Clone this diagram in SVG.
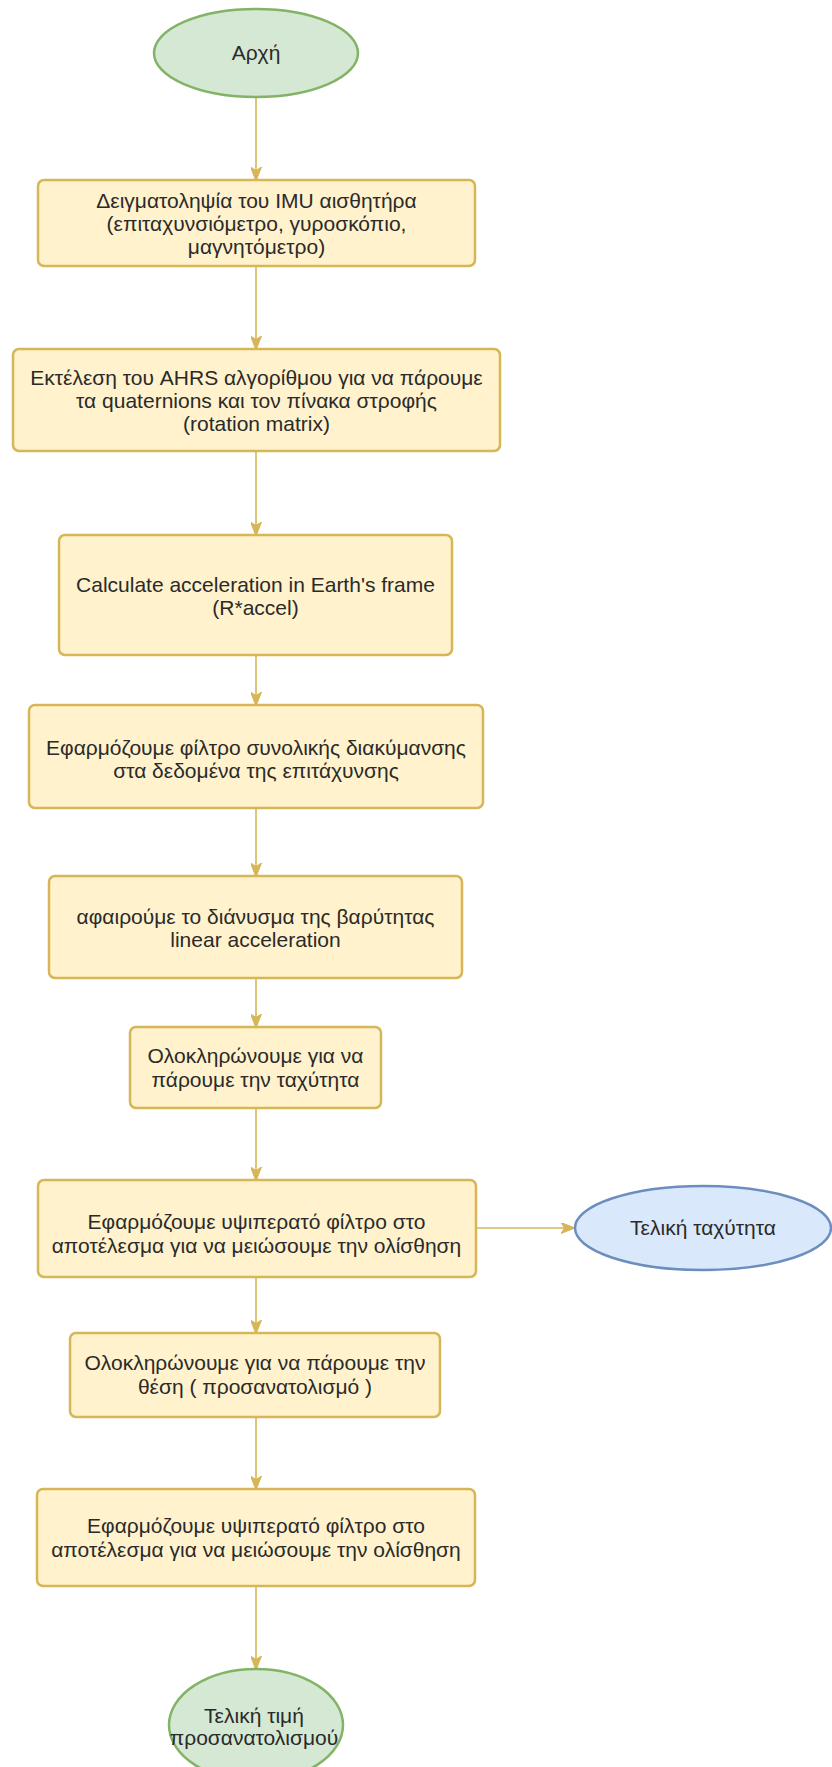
<svg xmlns="http://www.w3.org/2000/svg" width="832" height="1767" viewBox="0 0 832 1767">
<defs>
<marker id="arr" viewBox="0 0 14 11" refX="13" refY="5.5" markerWidth="14" markerHeight="11" orient="auto" markerUnits="userSpaceOnUse">
<path d="M0,0 L14,5.5 L0,11 L3.5,5.5 z" fill="#d6b656" stroke="#d6b656" stroke-width="1"/>
</marker>
<style>
.box{fill:#fff2cc;stroke:#d6b656;stroke-width:2.5}
.green{fill:#d5e8d4;stroke:#82b366;stroke-width:2.5}
.blue{fill:#dae8fc;stroke:#6c8ebf;stroke-width:2.5}
.t{font-family:"Liberation Sans",Arial,sans-serif;font-size:21px;fill:#2a2a2a;text-anchor:middle}
.c{stroke:#d6b656;stroke-width:1.6;fill:none;marker-end:url(#arr)}
</style>
</defs>
<rect width="832" height="1767" fill="#ffffff"/>
<g id="connectors">
<line class="c" x1="256" y1="97" x2="256" y2="180"/>
<line class="c" x1="256" y1="266" x2="256" y2="349"/>
<line class="c" x1="256" y1="451" x2="256" y2="535"/>
<line class="c" x1="256" y1="655" x2="256" y2="705"/>
<line class="c" x1="256" y1="808" x2="256" y2="876"/>
<line class="c" x1="256" y1="978" x2="256" y2="1027"/>
<line class="c" x1="256" y1="1108" x2="256" y2="1180"/>
<line class="c" x1="256" y1="1277" x2="256" y2="1333"/>
<line class="c" x1="256" y1="1417" x2="256" y2="1489"/>
<line class="c" x1="256" y1="1586" x2="256" y2="1669"/>
<line class="c" x1="476" y1="1228" x2="574" y2="1228"/>
</g>
<g id="start">
<ellipse class="green" cx="256" cy="53" rx="102" ry="44"/>
<text class="t" x="256" y="60">Αρχή</text>
</g>
<g id="step1">
<rect class="box" x="38" y="180" width="437" height="86" rx="6"/>
<text class="t" x="256.5" y="208">Δειγματοληψία του IMU αισθητήρα</text>
<text class="t" x="256.5" y="231">(επιταχυνσιόμετρο, γυροσκόπιο,</text>
<text class="t" x="256.5" y="254">μαγνητόμετρο)</text>
</g>
<g id="step2">
<rect class="box" x="13" y="349" width="487" height="102" rx="6"/>
<text class="t" x="256.5" y="385">Εκτέλεση του AHRS αλγορίθμου για να πάρουμε</text>
<text class="t" x="256.5" y="408">τα quaternions και τον πίνακα στροφής</text>
<text class="t" x="256.5" y="431">(rotation matrix)</text>
</g>
<g id="step3">
<rect class="box" x="59" y="535" width="393" height="120" rx="6"/>
<text class="t" x="255.5" y="592">Calculate acceleration in Earth's frame</text>
<text class="t" x="255.5" y="615">(R*accel)</text>
</g>
<g id="step4">
<rect class="box" x="29" y="705" width="454" height="103" rx="6"/>
<text class="t" x="256" y="755">Εφαρμόζουμε φίλτρο συνολικής διακύμανσης</text>
<text class="t" x="256" y="778">στα δεδομένα της επιτάχυνσης</text>
</g>
<g id="step5">
<rect class="box" x="49" y="876" width="413" height="102" rx="6"/>
<text class="t" x="255.5" y="924">αφαιρούμε το διάνυσμα της βαρύτητας</text>
<text class="t" x="255.5" y="947">linear acceleration</text>
</g>
<g id="step6">
<rect class="box" x="130" y="1027" width="251" height="81" rx="6"/>
<text class="t" x="255.5" y="1063">Ολοκληρώνουμε για να</text>
<text class="t" x="255.5" y="1087">πάρουμε την ταχύτητα</text>
</g>
<g id="step7">
<rect class="box" x="38" y="1180" width="438" height="97" rx="6"/>
<text class="t" x="256.5" y="1229">Εφαρμόζουμε υψιπερατό φίλτρο στο</text>
<text class="t" x="256.5" y="1253">αποτέλεσμα για να μειώσουμε την ολίσθηση</text>
</g>
<g id="velocity">
<ellipse class="blue" cx="703" cy="1228" rx="128" ry="42"/>
<text class="t" x="703" y="1235">Τελική ταχύτητα</text>
</g>
<g id="step8">
<rect class="box" x="70" y="1333" width="370" height="84" rx="6"/>
<text class="t" x="255" y="1370">Ολοκληρώνουμε για να πάρουμε την</text>
<text class="t" x="255" y="1394">θέση ( προσανατολισμό )</text>
</g>
<g id="step9">
<rect class="box" x="37" y="1489" width="438" height="97" rx="6"/>
<text class="t" x="256" y="1533">Εφαρμόζουμε υψιπερατό φίλτρο στο</text>
<text class="t" x="256" y="1557">αποτέλεσμα για να μειώσουμε την ολίσθηση</text>
</g>
<g id="end">
<ellipse class="green" cx="256" cy="1725" rx="87" ry="56"/>
<text class="t" x="254" y="1723">Τελική τιμή</text>
<text class="t" x="254" y="1745">προσανατολισμού</text>
</g>
</svg>
